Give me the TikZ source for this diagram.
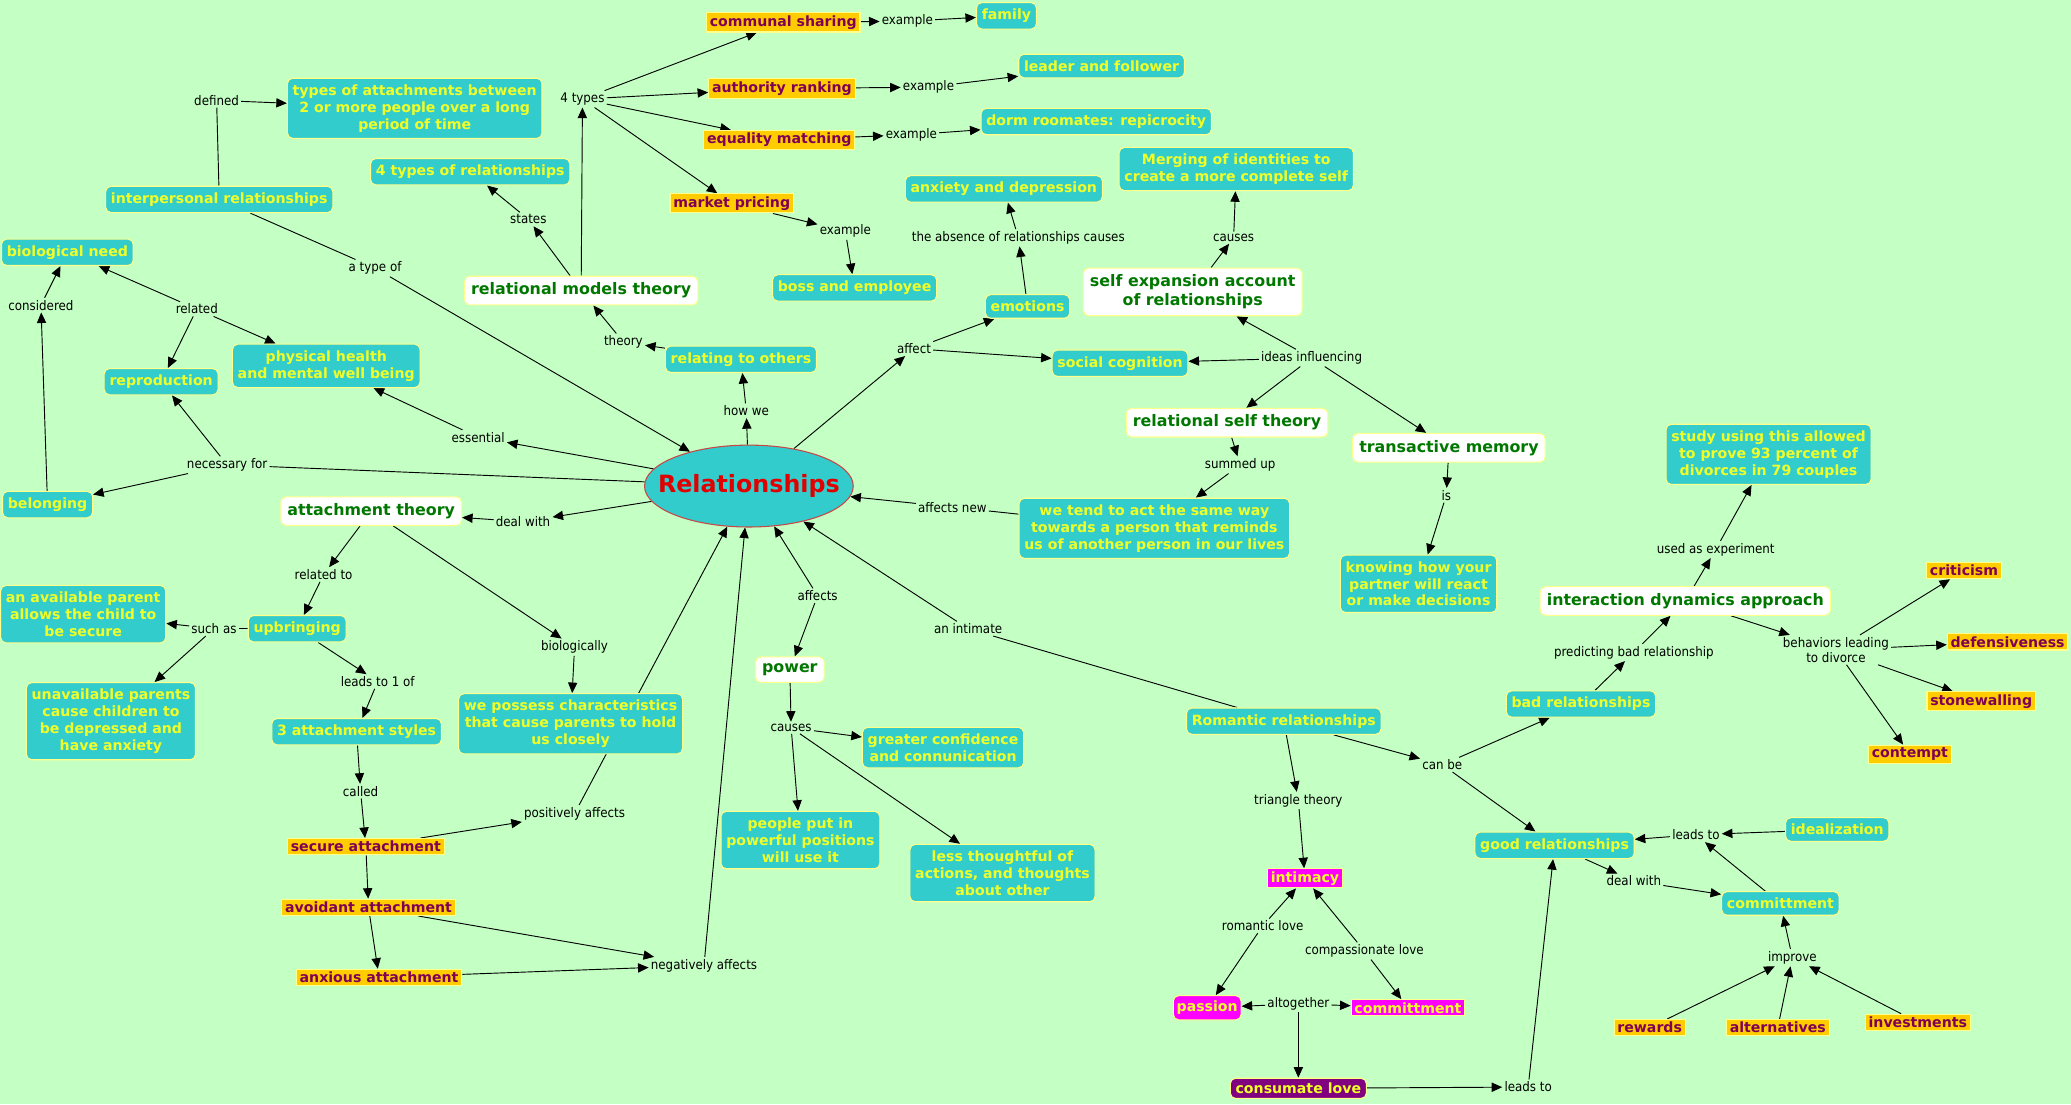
\documentclass[tikz,border=0pt]{standalone}
\usepackage{fontspec}
\setmainfont{DejaVu Sans}
\newfontfamily\condf{DejaVu Sans Condensed}
\usetikzlibrary{arrows.meta,shapes.geometric}
\pgfdeclarelayer{bg}
\pgfdeclarelayer{edges}
\pgfsetlayers{bg,edges,main}
\definecolor{bgc}{RGB}{196,255,196}
\definecolor{tealc}{RGB}{51,204,204}
\definecolor{ytx}{RGB}{240,255,40}
\definecolor{bord}{RGB}{255,255,140}
\definecolor{orng}{RGB}{255,204,0}
\definecolor{ptx}{RGB}{128,0,85}
\definecolor{magc}{RGB}{255,0,255}
\definecolor{purc}{RGB}{128,0,128}
\definecolor{gtx}{RGB}{0,120,0}
\definecolor{rtx}{RGB}{225,0,0}
\definecolor{ellb}{RGB}{200,70,70}
\newcommand{\cmnodefont}{\fontsize{10.7}{12.8}\selectfont\bfseries}
\newcommand{\cmheadfont}{\fontsize{12}{14.5}\selectfont\bfseries}
\newcommand{\cmlabfont}{\condf\fontsize{10}{11.5}\selectfont}
\tikzset{
 con/.style={rounded corners=4pt, fill=tealc, draw=bord, line width=0.8pt, text=ytx, font=\cmnodefont, inner xsep=4pt, inner ysep=4.8pt, align=center},
 ora/.style={fill=orng, draw=bord, line width=0.8pt, text=ptx, font=\cmnodefont, inner xsep=2.5pt, inner ysep=2pt},
 mag/.style={fill=magc, draw=bord, line width=0.8pt, text=ytx, font=\cmnodefont, inner xsep=2.5pt, inner ysep=2pt},
 head/.style={rounded corners=4pt, fill=white, draw=bord, line width=0.8pt, text=gtx, font=\cmheadfont, inner xsep=5pt, inner ysep=5pt, align=center},
 lab/.style={font=\cmlabfont, inner sep=1.5pt, align=center, text=black},
 arr/.style={-{Triangle[length=8pt,width=7pt]}, line width=0.7pt},
 ln/.style={line width=0.7pt}
}
\begin{document}
\begin{tikzpicture}[x=1pt,y=-1pt]
\begin{pgfonlayer}{bg}
\fill[bgc] (0,0) rectangle (1568,836);
\end{pgfonlayer}
\useasboundingbox (0,0) rectangle (1568,836);
% central
\node[ellipse, fill=tealc, draw=ellb, line width=0.8pt, minimum width=158pt, minimum height=62pt, text=rtx, font=\fontsize{18}{20}\selectfont\bfseries, inner xsep=-13pt, inner ysep=4pt] (rel) at (567,368) {Relationships};
% top cluster
\node[ora] (comm) at (593,17) {communal sharing};
\node[lab] (ex1) at (687,16) {example};
\node[con] (family) at (762,12) {family};
\node[ora] (auth) at (592,67) {authority ranking};
\node[lab] (ex2) at (703,66) {example};
\node[con] (leader) at (834,50) {leader and follower};
\node[ora] (equal) at (590,106) {equality matching};
\node[lab] (ex3) at (690,102) {example};
\node[con] (dorm) at (830,92) {dorm roomates: repicrocity};
\node[ora] (market) at (554,154) {market pricing};
\node[lab] (ex4) at (640,175) {example};
\node[con] (boss) at (647,218) {boss and employee};
\node[lab] (types4) at (441,75) {4 types};
\node[lab] (defined) at (164,76) {defined};
\node[con] (typesatt) at (314,82) {types of attachments between\\2 or more people over a long\\period of time};
\node[con] (fourtypes) at (356,130) {4 types of relationships};
\node[con] (interp) at (166,151) {interpersonal relationships};
\node[lab] (states) at (400,166) {states};
\node[head] (rmt) at (440,220) {relational models theory};
\node[lab] (atypeof) at (284,203) {a type of};
\node[con] (bioneed) at (51,191) {biological need};
\node[lab] (related) at (149,234) {related};
\node[lab] (considered) at (31,231) {considered};
\node[con] (repro) at (122,289) {reproduction};
\node[con] (physh) at (247,277) {physical health\\and mental well being};
\node[lab] (theory) at (472,259) {theory};
\node[con] (relating) at (561,272) {relating to others};
\node[lab] (howwe) at (565,311) {how we};
\node[lab] (essential) at (362,331) {essential};
\node[lab] (necessary) at (172,352) {necessary for};
\node[con] (belonging) at (36,382) {belonging};
% attachment
\node[head] (attth) at (281,387) {attachment theory};
\node[lab] (dealwith) at (396,395) {deal with};
\node[lab] (relto) at (245,435) {related to};
\node[con] (avail) at (63,465) {an available parent\\allows the child to\\be secure};
\node[lab] (suchas) at (162,476) {such as};
\node[con] (upbring) at (225,476) {upbringing};
\node[con] (unavail) at (84,546) {unavailable parents\\cause children to\\be depressed and\\have anxiety};
\node[lab] (leads1) at (286,516) {leads to 1 of};
\node[lab] (bio) at (435,490) {biologically};
\node[con] (possess) at (432,548) {we possess characteristics\\that cause parents to hold\\us closely};
\node[con] (styles3) at (270,554) {3 attachment styles};
\node[lab] (called) at (273,599) {called};
\node[ora] (secure) at (277,641) {secure attachment};
\node[lab] (posaff) at (435,616) {positively affects};
\node[ora] (avoid) at (279,687) {avoidant attachment};
\node[ora] (anx) at (287,740) {anxious attachment};
\node[lab] (negaff) at (533,731) {negatively affects};
% power
\node[lab] (affects) at (619,451) {affects};
\node[head] (power) at (598,507) {power};
\node[lab] (causes) at (599,551) {causes};
\node[con] (conf) at (714,566) {greater confidence\\and connunication};
\node[con] (people) at (606,636) {people put in\\powerful positions\\will use it};
\node[con] (less) at (759,661) {less thoughtful of\\actions, and thoughts\\about other};
% right upper
\node[lab] (affect) at (692,264) {affect};
\node[con] (emotions) at (778,232) {emotions};
\node[lab] (absence) at (771,180) {the absence of relationships causes};
\node[con] (anxdep) at (760,143) {anxiety and depression};
\node[con] (social) at (848,275) {social cognition};
\node[head] (selfexp) at (903,221) {self expansion account\\of relationships};
\node[lab] (causesb) at (934,180) {causes};
\node[con] (merging) at (936,128) {Merging of identities to\\create a more complete self};
\node[lab] (ideas) at (993,271) {ideas influencing};
\node[head] (rst) at (929,320) {relational self theory};
\node[lab] (summed) at (939,352) {summed up};
\node[con] (tend) at (874,400) {we tend to act the same way\\towards a person that reminds\\us of another person in our lives};
\node[lab] (affnew) at (721,384) {affects new};
\node[head] (trans) at (1097,339) {transactive memory};
\node[lab] (is) at (1095,375) {is};
\node[con] (knowing) at (1074,442) {knowing how your\\partner will react\\or make decisions};
% romantic
\node[lab] (anintimate) at (733,476) {an intimate};
\node[con] (romantic) at (972,546) {Romantic relationships};
\node[lab] (triangle) at (983,606) {triangle theory};
\node[mag] (intimacy) at (988,665) {intimacy};
\node[lab] (romlove) at (956,701) {romantic love};
\node[lab] (complove) at (1033,720) {compassionate love};
\node[mag, rounded corners=4pt, inner ysep=4pt] (passion) at (914,763) {passion};
\node[lab] (altogether) at (983,760) {altogether};
\node[mag] (committa) at (1066,763) {committment};
\node[con, fill=purc, inner ysep=3.5pt] (consumate) at (983,824) {consumate love};
\node[lab] (leadstob) at (1157,823) {leads to};
\node[lab] (canbe) at (1092,579) {can be};
\node[con] (bad) at (1197,533) {bad relationships};
\node[lab] (predicting) at (1237,494) {predicting bad relationship};
\node[head] (ida) at (1276,455) {interaction dynamics approach};
\node[lab] (usedexp) at (1299,416) {used as experiment};
\node[con] (study) at (1339,344) {study using this allowed\\to prove 93 percent of\\divorces in 79 couples};
\node[lab] (behav) at (1390,492) {behaviors leading\\to divorce};
\node[ora] (criticism) at (1487,432) {criticism};
\node[ora] (defens) at (1520,486) {defensiveness};
\node[ora] (stonew) at (1500,531) {stonewalling};
\node[ora] (contempt) at (1446,571) {contempt};
\node[con] (good) at (1177,640) {good relationships};
\node[lab] (leadstoc) at (1284,632) {leads to};
\node[con] (ideal) at (1391,628) {idealization};
\node[lab] (dealwithb) at (1237,667) {deal with};
\node[con] (committb) at (1348,684) {committment};
\node[lab] (improve) at (1357,725) {improve};
\node[ora] (rewards) at (1249,778) {rewards};
\node[ora] (altern) at (1346,778) {alternatives};
\node[ora] (invest) at (1452,774) {investments};
% edges
\begin{pgfonlayer}{edges}
\draw[arr] (rmt) -- (types4);
\draw[arr] (types4) -- (comm);
\draw[arr] (types4) -- (auth);
\draw[arr] (types4) -- (equal);
\draw[arr] (types4) -- (market);
\draw[arr] (comm) -- (ex1);
\draw[arr] (ex1) -- (family);
\draw[arr] (auth) -- (ex2);
\draw[arr] (ex2) -- (leader);
\draw[arr] (equal) -- (ex3);
\draw[arr] (ex3) -- (dorm);
\draw[arr] (market) -- (ex4);
\draw[arr] (ex4) -- (boss);
\draw[arr] (rmt) -- (states);
\draw[arr] (states) -- (fourtypes);
\draw[arr] (relating) -- (theory);
\draw[arr] (theory) -- (rmt);
\draw[arr] (rel) -- (howwe);
\draw[arr] (howwe) -- (relating);
\draw[ln] (interp) -- (defined);
\draw[arr] (defined) -- (typesatt);
\draw[ln] (interp) -- (atypeof);
\draw[arr] (atypeof) -- (rel);
\draw[arr] (rel) -- (essential);
\draw[arr] (essential) -- (physh);
\draw[ln] (rel) -- (necessary);
\draw[arr] (necessary) -- (repro);
\draw[arr] (necessary) -- (belonging);
\draw[arr] (belonging) -- (considered);
\draw[arr] (considered) -- (bioneed);
\draw[arr] (related) -- (bioneed);
\draw[arr] (related) -- (repro);
\draw[arr] (related) -- (physh);
\draw[arr] (rel) -- (dealwith);
\draw[arr] (dealwith) -- (attth);
\draw[arr] (attth) -- (relto);
\draw[arr] (relto) -- (upbring);
\draw[ln] (upbring) -- (suchas);
\draw[arr] (suchas) -- (avail);
\draw[arr] (suchas) -- (unavail);
\draw[arr] (upbring) -- (leads1);
\draw[arr] (leads1) -- (styles3);
\draw[arr] (styles3) -- (called);
\draw[arr] (called) -- (secure);
\draw[arr] (attth) -- (bio);
\draw[arr] (bio) -- (possess);
\draw[arr] (secure) -- (posaff);
\draw[arr] (posaff) -- (rel);
\draw[arr] (secure) -- (avoid);
\draw[arr] (avoid) -- (anx);
\draw[arr] (avoid) -- (negaff);
\draw[arr] (anx) -- (negaff);
\draw[arr] (negaff) -- (rel);
\draw[arr] (affects) -- (rel);
\draw[arr] (affects) -- (power);
\draw[arr] (power) -- (causes);
\draw[arr] (causes) -- (conf);
\draw[arr] (causes) -- (people);
\draw[arr] (causes) -- (less);
\draw[arr] (rel) -- (affect);
\draw[arr] (affect) -- (emotions);
\draw[arr] (affect) -- (social);
\draw[arr] (emotions) -- (absence);
\draw[arr] (absence) -- (anxdep);
\draw[arr] (ideas) -- (social);
\draw[arr] (ideas) -- (selfexp);
\draw[arr] (ideas) -- (rst);
\draw[arr] (ideas) -- (trans);
\draw[arr] (selfexp) -- (causesb);
\draw[arr] (causesb) -- (merging);
\draw[arr] (rst) -- (summed);
\draw[arr] (summed) -- (tend);
\draw[ln] (tend) -- (affnew);
\draw[arr] (affnew) -- (rel);
\draw[arr] (trans) -- (is);
\draw[arr] (is) -- (knowing);
\draw[ln] (romantic) -- (anintimate);
\draw[arr] (anintimate) -- (rel);
\draw[arr] (romantic) -- (triangle);
\draw[arr] (triangle) -- (intimacy);
\draw[arr] (romantic) -- (canbe);
\draw[arr] (canbe) -- (bad);
\draw[arr] (canbe) -- (good);
\draw[arr] (bad) -- (predicting);
\draw[arr] (predicting) -- (ida);
\draw[arr] (ida) -- (usedexp);
\draw[arr] (usedexp) -- (study);
\draw[arr] (ida) -- (behav);
\draw[arr] (behav) -- (criticism);
\draw[arr] (behav) -- (defens);
\draw[arr] (behav) -- (stonew);
\draw[arr] (behav) -- (contempt);
\draw[arr] (romlove) -- (intimacy);
\draw[arr] (romlove) -- (passion);
\draw[arr] (complove) -- (intimacy);
\draw[arr] (complove) -- (committa);
\draw[arr] (altogether) -- (passion);
\draw[arr] (altogether) -- (committa);
\draw[arr] (altogether) -- (consumate);
\draw[arr] (consumate) -- (leadstob);
\draw[arr] (leadstob) -- (good);
\draw[arr] (ideal) -- (leadstoc);
\draw[arr] (leadstoc) -- (good);
\draw[arr] (committb) -- (leadstoc);
\draw[arr] (good) -- (dealwithb);
\draw[arr] (dealwithb) -- (committb);
\draw[arr] (rewards) -- (improve);
\draw[arr] (altern) -- (improve);
\draw[arr] (invest) -- (improve);
\draw[arr] (improve) -- (committb);
\end{pgfonlayer}
\end{tikzpicture}
\end{document}
